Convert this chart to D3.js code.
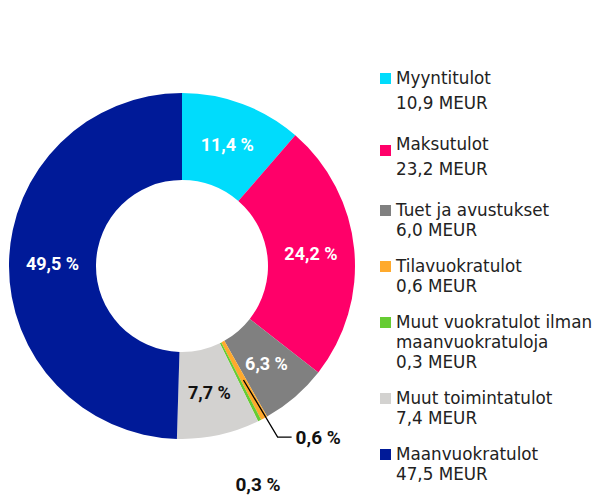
<!DOCTYPE html>
<html>
<head>
<meta charset="utf-8">
<script src="https://cdn.jsdelivr.net/npm/d3@7"></script>
<style>
  body { margin: 0; background: #fff; }
  svg { display: block; font-family: Roboto, "Noto Sans", sans-serif; }
</style>
</head>
<body>
<div id="chart"></div>
<script>
// data
const categories = ['Myyntitulot', 'Maksutulot', 'Tuet ja avustukset', 'Tilavuokratulot',
    'Muut vuokratulot ilman maanvuokratuloja', 'Muut toimintatulot', 'Maanvuokratulot'];
const legendLines = [['Myyntitulot'], ['Maksutulot'], ['Tuet ja avustukset'], ['Tilavuokratulot'],
    ['Muut vuokratulot ilman', 'maanvuokratuloja'], ['Muut toimintatulot'], ['Maanvuokratulot']];
const values = [10.9, 23.2, 6.0, 0.6, 0.3, 7.4, 47.5];   // MEUR
const percents = ['11,4 %', '24,2 %', '6,3 %', '0,6 %', '0,3 %', '7,7 %', '49,5 %'];
const colors = ['#00dcfc', '#ff0069', '#808080', '#ffaa2d', '#66cc33', '#d3d2d0', '#001a98'];

const width = 599, height = 495;
const cx = 182, cy = 266, outerR = 173, innerR = 86;

const svg = d3.select('#chart')
    .append('svg')
    .attr('width', width)
    .attr('height', height);

const g = svg.append('g')
    .attr('transform', `translate(${cx},${cy})`);

const pie = d3.pie().sort(null).value(d => d.value);
const arc = d3.arc().innerRadius(innerR).outerRadius(outerR);

const data = pie(categories.map((c, i) => ({ name: c, value: values[i], pct: percents[i], color: colors[i] })));

g.selectAll('.slice')
    .data(data)
    .enter()
    .append('path')
    .attr('class', 'slice')
    .attr('d', arc)
    .attr('fill', d => d.data.color);

// labels inside the big slices
const inside = data.filter(d => d.data.value >= 5);
g.selectAll('.pct')
    .data(inside)
    .enter()
    .append('text')
    .attr('class', 'pct')
    .attr('transform', d => `translate(${arc.centroid(d)})`)
    .attr('text-anchor', 'middle')
    .attr('dy', '0.35em')
    .attr('font-size', 18)
    .attr('font-weight', 700)
    .attr('fill', d => d.data.color === '#d3d2d0' ? '#111' : '#fff')
    .text(d => d.data.pct);

// small slices: 0,6 % with a leader line, 0,3 % below the ring
const tila = data[3];
const c0 = arc.centroid(tila);
const elbow = d3.arc().innerRadius(196).outerRadius(196).centroid({ startAngle: tila.startAngle - 0.015, endAngle: tila.endAngle - 0.015 });
g.append('polyline')
    .attr('points', [c0, elbow, [elbow[0] + 14, elbow[1]]].map(p => p.join(',')).join(' '))
    .attr('fill', 'none')
    .attr('stroke', '#000')
    .attr('stroke-width', 1.3);
g.append('text')
    .attr('x', elbow[0] + 18)
    .attr('y', elbow[1])
    .attr('dy', '0.35em')
    .attr('font-size', 19)
    .attr('font-weight', 700)
    .attr('fill', '#111')
    .text(tila.data.pct);

g.append('text')
    .attr('x', 76)
    .attr('y', 225)
    .attr('text-anchor', 'middle')
    .attr('font-size', 19)
    .attr('font-weight', 700)
    .attr('fill', '#111')
    .text(data[4].data.pct);

// legend
const legend = svg.append('g').attr('transform', 'translate(380,0)');
let y = 84;
legendLines.forEach((lines, i) => {
    const lh = i < 2 ? 25 : 20;
    const item = legend.append('g');
    item.append('rect')
        .attr('x', 0)
        .attr('y', i === 1 ? y - 5 : y - 11)
        .attr('width', 11)
        .attr('height', 11)
        .attr('fill', colors[i]);
    const rows = lines.concat([d3.format('.1f')(values[i]).replace('.', ',') + ' MEUR']);
    rows.forEach((t, j) => {
        item.append('text')
            .attr('x', 16)
            .attr('y', y + j * lh)
            .attr('font-family', '"DejaVu Sans", sans-serif')
            .attr('font-size', 16.8)
            .attr('fill', '#222')
            .text(t);
    });
    y += (rows.length - 1) * lh + (i < 2 ? 41 : 36);
});
</script>
</body>
</html>
